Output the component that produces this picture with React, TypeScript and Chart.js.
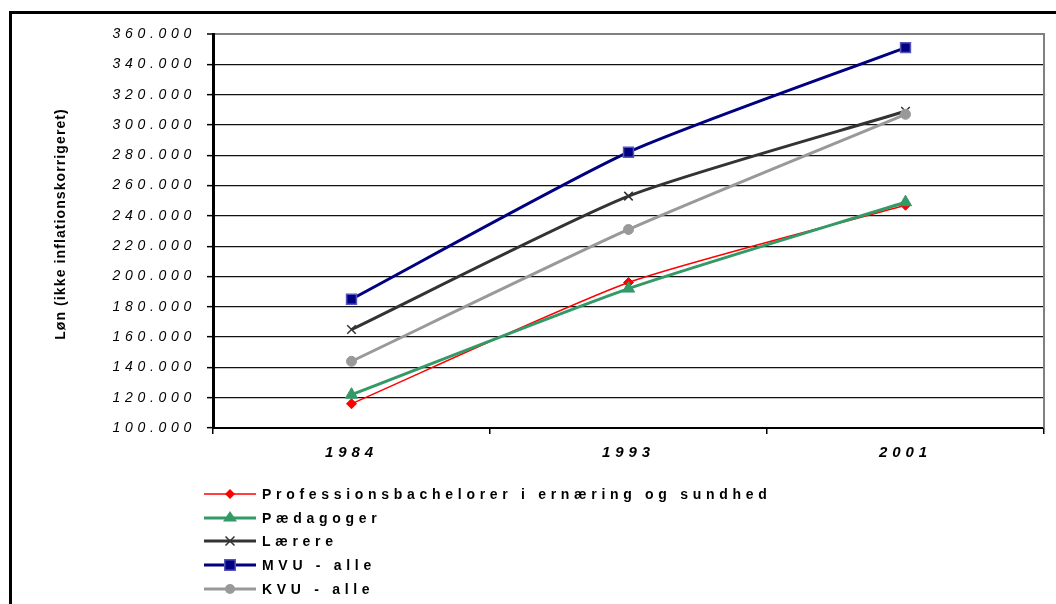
import React, { useEffect, useRef } from "react";
import { Chart, registerables } from "chart.js";

Chart.register(...registerables);

const years = ["1984", "1993", "2001"];
const seriesNames = [
  "Professionsbachelorer i ernæring og sundhed",
  "Pædagoger",
  "Lærere",
  "MVU - alle",
  "KVU - alle",
];
const profBachelor = [116000, 196000, 247000];
const paedagoger = [122000, 192000, 249000];
const laerere = [165000, 253000, 309000];
const mvuAlle = [185000, 282000, 351000];
const kvuAlle = [144000, 231000, 307000];
const yMin = 100000;
const yMax = 360000;
const yStep = 20000;
const yTitle = "Løn (ikke inflationskorrigeret)";

const FONT = "'Liberation Sans', Arial, sans-serif";

function fmt(v: number): string {
  const s = Math.round(v).toString();
  return s.replace(/\B(?=(\d{3})+(?!\d))/g, ".");
}

function drawMarker(ctx: CanvasRenderingContext2D, style: string, x: number, y: number, r: number, fill: string, stroke: string, bw: number) {
  ctx.save();
  ctx.fillStyle = fill;
  ctx.strokeStyle = stroke;
  ctx.lineWidth = bw;
  ctx.beginPath();
  if (style === "rectRot") {
    ctx.moveTo(x, y - r);
    ctx.lineTo(x + r, y);
    ctx.lineTo(x, y + r);
    ctx.lineTo(x - r, y);
    ctx.closePath();
    ctx.fill();
  } else if (style === "triangle") {
    const h = r * 1.5;
    ctx.moveTo(x, y - h * 0.66);
    ctx.lineTo(x + r, y + h * 0.34);
    ctx.lineTo(x - r, y + h * 0.34);
    ctx.closePath();
    ctx.fill();
  } else if (style === "crossRot") {
    const d = r * 0.75;
    ctx.moveTo(x - d, y - d);
    ctx.lineTo(x + d, y + d);
    ctx.moveTo(x + d, y - d);
    ctx.lineTo(x - d, y + d);
    ctx.stroke();
  } else if (style === "rect") {
    ctx.rect(x - r * 0.75, y - r * 0.75, r * 1.5, r * 1.5);
    ctx.fill();
    ctx.stroke();
  } else {
    ctx.arc(x, y, r, 0, Math.PI * 2);
    ctx.fill();
  }
  ctx.restore();
}

export default function App() {
  const ref = useRef<HTMLCanvasElement | null>(null);

  useEffect(() => {
    if (!ref.current) return;

    const spacingPlugin = {
      id: "spacing",
      beforeLayout(chart: any) {
        chart.ctx.letterSpacing = "4.7px";
      },
      beforeDraw(chart: any) {
        chart.ctx.letterSpacing = "4.7px";
      },
      beforeDatasetsDraw(chart: any) {
        chart.ctx.letterSpacing = "4.9px";
      },
      afterDraw(chart: any) {
        const ctx = chart.ctx as CanvasRenderingContext2D;
        const area = chart.chartArea;
        // right border of plot area
        ctx.save();
        ctx.strokeStyle = "#808080";
        ctx.lineWidth = 2;
        ctx.beginPath();
        ctx.moveTo(area.right, area.top - 1);
        ctx.lineTo(area.right, area.bottom);
        ctx.stroke();
        ctx.restore();
        // legend
        const rowsY = [494, 518, 541, 565, 589];
        ctx.save();
        (ctx as any).letterSpacing = "4.7px";
        ctx.font = `bold 14px ${FONT}`;
        ctx.textBaseline = "middle";
        ctx.textAlign = "left";
        chart.data.datasets.forEach((ds: any, i: number) => {
          const y = rowsY[i];
          ctx.save();
          ctx.strokeStyle = ds.borderColor;
          ctx.lineWidth = ds.borderWidth;
          ctx.beginPath();
          ctx.moveTo(204, y);
          ctx.lineTo(256, y);
          ctx.stroke();
          ctx.restore();
          drawMarker(ctx, ds.pointStyle, 230, y, ds.pointRadius, ds.pointBackgroundColor, ds.pointBorderColor, ds.pointBorderWidth);
          ctx.fillStyle = "#000";
          ctx.fillText(ds.label, 262, y + 1);
        });
        ctx.restore();
        // y title
        ctx.save();
        (ctx as any).letterSpacing = "1.1px";
        ctx.font = `bold 14px ${FONT}`;
        ctx.fillStyle = "#000";
        ctx.textAlign = "center";
        ctx.textBaseline = "middle";
        ctx.translate(61, 224);
        ctx.rotate(-Math.PI / 2);
        ctx.fillText(yTitle, 0, 0);
        ctx.restore();
        (ctx as any).letterSpacing = "0px";
      },
    };

    const mk = (label: string, data: number[], color: string, bw: number, style: string, r: number, pbg: string, pbc: string, pbw: number, order: number) => ({
      label,
      data,
      borderColor: color,
      backgroundColor: pbg,
      borderWidth: bw,
      pointStyle: style,
      pointRadius: r,
      pointHoverRadius: r,
      pointBackgroundColor: pbg,
      pointBorderColor: pbc,
      pointBorderWidth: pbw,
      tension: 0.2,
      fill: false,
      order,
    });

    const chart = new Chart(ref.current, {
      type: "line",
      data: {
        labels: years,
        datasets: [
          mk(seriesNames[0], profBachelor, "#ff0000", 1.5, "rectRot", 5, "#ff0000", "#ff0000", 1, 5),
          mk(seriesNames[1], paedagoger, "#339966", 3, "triangle", 7, "#339966", "#339966", 1, 4),
          mk(seriesNames[2], laerere, "#333333", 3, "crossRot", 6, "#333333", "#333333", 1.5, 3),
          mk(seriesNames[3], mvuAlle, "#000080", 3, "rect", 7, "#000080", "#5555bb", 1.5, 2),
          mk(seriesNames[4], kvuAlle, "#999999", 3, "circle", 5, "#999999", "#999999", 1, 1),
        ] as any,
      },
      options: {
        responsive: false,
        animation: false,
        devicePixelRatio: 1,
        layout: { padding: { top: 34, right: 12, left: 0, bottom: 0 } },
        plugins: {
          legend: { display: false },
          tooltip: { enabled: false },
          title: { display: false },
        },
        scales: {
          x: {
            type: "category",
            offset: true,
            grid: {
              offset: true,
              drawOnChartArea: false,
              color: "#000",
              lineWidth: 1.5,
              tickColor: "#000",
              tickLength: 6,
              tickWidth: 1.5,
            },
            border: { display: true, color: "#000", width: 2 },
            ticks: {
              color: "#000",
              font: { family: FONT, size: 15, style: "italic", weight: "bold" },
              padding: 10,
              maxRotation: 0,
              z: 1,
            },
            afterFit: (s: any) => {
              s.height = 176;
            },
          },
          y: {
            min: yMin,
            max: yMax,
            grid: {
              color: (c: any) => (c.tick && c.tick.value === yMax ? "#808080" : "#111"),
              lineWidth: (c: any) => (c.tick && c.tick.value === yMax ? 2 : 1.3),
              tickColor: "#000",
              tickLength: 6,
              tickWidth: 1.5,
            },
            border: { display: true, color: "#000", width: 3 },
            ticks: {
              stepSize: yStep,
              color: "#000",
              font: { family: FONT, size: 14, style: "italic" },
              padding: 11,
              callback: (v: any) => fmt(Number(v)),
            },
            afterFit: (s: any) => {
              s.width = 213;
            },
          },
        },
      },
      plugins: [spacingPlugin],
    });

    return () => chart.destroy();
  }, []);

  return (
    <div style={{ position: "fixed", left: 0, top: 0, width: 1056, height: 604, overflow: "hidden", background: "#fff" }}>
      <div
        style={{
          position: "absolute",
          left: 9,
          top: 11,
          width: 1100,
          height: 700,
          borderLeft: "3px solid #000",
          borderTop: "3px solid #000",
        }}
      />
      <canvas ref={ref} width={1056} height={604} style={{ position: "absolute", left: 0, top: 0, width: 1056, height: 604 }} />
    </div>
  );
}
